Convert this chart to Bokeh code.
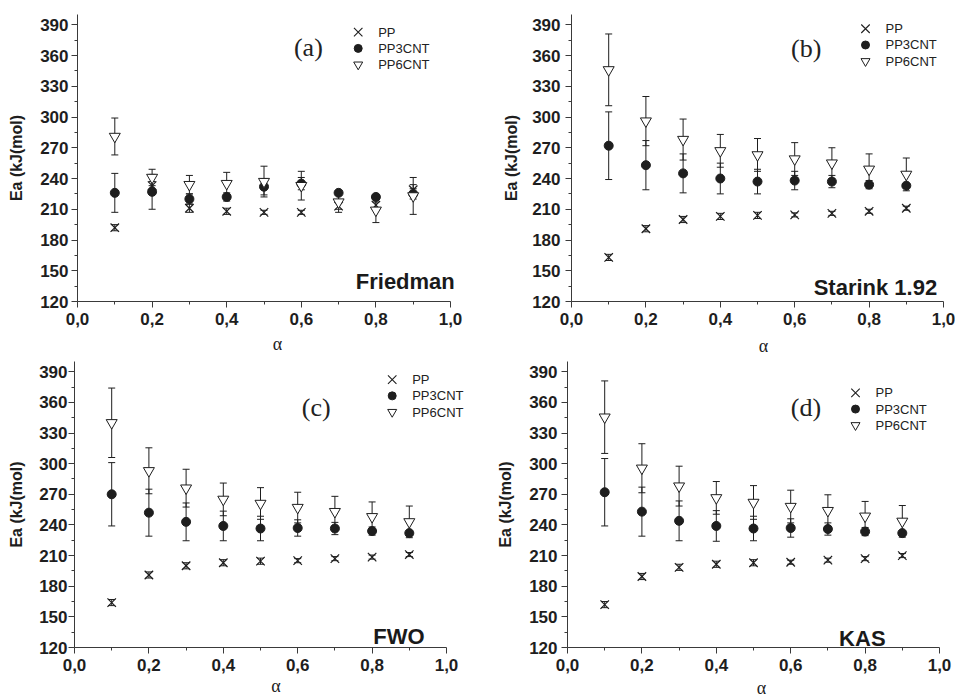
from bokeh.plotting import figure
from bokeh.layouts import column, row
from bokeh.models import (ColumnDataSource, Whisker, TeeHead, FixedTicker, Range1d,
                          Label, CustomJSTickFormatter)
from bokeh.core.properties import value
from bokeh.embed import file_html
from bokeh.resources import INLINE

# Conversion degree
ALPHA = [0.1, 0.2, 0.3, 0.4, 0.5, 0.6, 0.7, 0.8, 0.9]

# Activation energy Ea (kJ/mol) and its error, per isoconversional method
FRIEDMAN_PP = [192, 233, 211, 208, 207, 207, 213, 214, 229]
FRIEDMAN_PP_ERR = [3, 4, 4, 3, 2, 2, 3, 3, 5]
FRIEDMAN_PP3CNT = [226, 227, 220, 222, 232, 235, 226, 222, 225]
FRIEDMAN_PP3CNT_ERR = [19, 17, 5, 4, 8, 6, 2, 2, 5]
FRIEDMAN_PP6CNT = [281, 241, 234, 235, 237, 233, 217, 209, 223]
FRIEDMAN_PP6CNT_ERR = [18, 8, 9, 11, 15, 14, 10, 12, 18]

STARINK_PP = [163, 191, 200, 203, 204, 204.5, 206, 208, 211]
STARINK_PP_ERR = [3, 3, 3, 3, 3, 2, 2, 2, 2]
STARINK_PP3CNT = [272, 253, 245, 240, 237, 238, 237, 234, 233]
STARINK_PP3CNT_ERR = [33, 24, 19, 15, 12, 9, 6, 4, 2]
STARINK_PP6CNT = [346, 296, 278, 267, 263, 259, 255, 249, 244]
STARINK_PP6CNT_ERR = [35, 24, 20, 16, 16, 16, 15, 15, 16]

FWO_PP = [164, 191, 200, 203, 204.5, 205, 207, 208.5, 211]
FWO_PP_ERR = [3, 3, 3, 3, 3, 2, 2, 2, 2]
FWO_PP3CNT = [270, 252, 243, 239, 236.5, 237, 236.5, 234, 232]
FWO_PP3CNT_ERR = [31, 23, 18.5, 14.5, 12, 8, 6, 4, 2]
FWO_PP6CNT = [340, 293, 276, 265, 261, 257, 253, 248, 243]
FWO_PP6CNT_ERR = [34, 22.5, 18.5, 16, 15.5, 15, 15, 14.5, 15.5]

KAS_PP = [162, 189.5, 198.5, 201.5, 203, 203.5, 205.5, 207, 210]
KAS_PP_ERR = [3, 3, 3, 3, 3, 2, 2, 2, 2]
KAS_PP3CNT = [272, 253, 244, 239, 236.5, 237, 236, 233.5, 232]
KAS_PP3CNT_ERR = [33, 24, 19.5, 15, 12, 9, 6, 4, 2]
KAS_PP6CNT = [345.5, 295.5, 278, 266.5, 262, 258, 254, 248.5, 243.5]
KAS_PP6CNT_ERR = [35.5, 24, 19.5, 16, 16.5, 16, 15.5, 14.5, 15.5]

SERIES_NAMES = ["PP", "PP3CNT", "PP6CNT"]

X_TICKS = [0.0, 0.2, 0.4, 0.6, 0.8, 1.0]
X_MINOR = [0.1, 0.3, 0.5, 0.7, 0.9]
Y_TICKS = [120, 150, 180, 210, 240, 270, 300, 330, 360, 390]
Y_MINOR = [135, 165, 195, 225, 255, 285, 315, 345, 375]
Y_START, Y_END = 120, 400

INK = "#1e1e1e"
AXIS = "#3a3a3a"
SANS = "Liberation Sans"
SERIF = "Liberation Serif"

# Panel geometry and annotation placement (layout only).
# "gap" is the pixel distance from alpha = 1 to the right edge of the figure.
PANELS = [
    dict(tag="(a)", method="Friedman",
         data=(FRIEDMAN_PP, FRIEDMAN_PP_ERR, FRIEDMAN_PP3CNT, FRIEDMAN_PP3CNT_ERR,
               FRIEDMAN_PP6CNT, FRIEDMAN_PP6CNT_ERR),
         w=477, h=358, bl=77, gap=27, bt=14, bb=56,
         tick_std=3, ylab_std=12, xlab_std=6,
         tag_xy=(0.619, 367.7), meth_xy=(1.0115, 139.7), leg_px=(280.7, 17.7)),
    dict(tag="(b)", method="Starink 1.92",
         data=(STARINK_PP, STARINK_PP_ERR, STARINK_PP3CNT, STARINK_PP3CNT_ERR,
               STARINK_PP6CNT, STARINK_PP6CNT_ERR),
         w=478, h=358, bl=94, gap=12, bt=14, bb=56,
         tick_std=5, ylab_std=9, xlab_std=8,
         tag_xy=(0.631, 366.7), meth_xy=(0.983, 133.6), leg_px=(294, 14.3)),
    dict(tag="(c)", method="FWO",
         data=(FWO_PP, FWO_PP_ERR, FWO_PP3CNT, FWO_PP3CNT_ERR,
               FWO_PP6CNT, FWO_PP6CNT_ERR),
         w=477, h=342, bl=74, gap=31, bt=3, bb=51,
         tick_std=1, ylab_std=11, xlab_std=2,
         tag_xy=(0.650, 354.6), meth_xy=(0.941, 130.7), leg_px=(317.7, 18.3)),
    dict(tag="(d)", method="KAS",
         data=(KAS_PP, KAS_PP_ERR, KAS_PP3CNT, KAS_PP3CNT_ERR,
               KAS_PP6CNT, KAS_PP6CNT_ERR),
         w=478, h=342, bl=90, gap=16, bt=3, bb=51,
         tick_std=4, ylab_std=12, xlab_std=4,
         tag_xy=(0.641, 355.3), meth_xy=(0.855, 128.7), leg_px=(288, 31.6)),
]

MARKERS = [
    dict(marker="x", size=12, line_color=INK, line_width=1.2, fill_color=None),
    dict(marker="circle", size=9, line_color=INK, line_width=1, fill_color=INK),
    dict(marker="inverted_triangle", size=11, line_color=INK, line_width=1, fill_color="white"),
]
LEGEND_MARKERS = [
    dict(marker="x", size=12, line_color=INK, line_width=1.1, fill_color=None),
    dict(marker="circle", size=8, line_color=INK, line_width=1, fill_color=INK),
    dict(marker="inverted_triangle", size=9, line_color=INK, line_width=1, fill_color="white"),
]
LEGEND_ROW_PX = 16.3
LEGEND_TEXT_PX = 20


def make_panel(spec):
    plot_w = spec["w"] - spec["bl"] - spec["gap"]      # pixels for alpha 0..1
    plot_h = spec["h"] - spec["bt"] - spec["bb"]
    x_end = (spec["w"] - spec["bl"]) / plot_w           # frame runs to the figure edge
    px_per_y = plot_h / (Y_END - Y_START)

    p = figure(width=spec["w"], height=spec["h"],
               x_range=Range1d(0, x_end), y_range=Range1d(Y_START, Y_END),
               output_backend="svg", toolbar_location=None,
               min_border_left=spec["bl"], min_border_right=0,
               min_border_top=spec["bt"], min_border_bottom=spec["bb"])
    p.outline_line_color = None
    p.grid.visible = False
    p.background_fill_color = "white"
    p.border_fill_color = "white"

    for ax in (p.xaxis[0], p.yaxis[0]):
        ax.axis_line_color = AXIS
        ax.major_tick_line_color = AXIS
        ax.minor_tick_line_color = AXIS
        ax.major_tick_out = 6
        ax.major_tick_in = 0
        ax.minor_tick_out = 3
        ax.minor_tick_in = 0
        ax.major_label_text_font = SANS
        ax.major_label_text_font_style = "bold"
        ax.major_label_text_font_size = "17px"
        ax.major_label_text_color = "#1e1e1e"

    p.xaxis.bounds = (0, 1)
    p.xaxis.ticker = FixedTicker(ticks=X_TICKS, minor_ticks=X_MINOR)
    p.xaxis.formatter = CustomJSTickFormatter(code="return tick.toFixed(1).replace('.', ',');")
    p.xaxis.axis_label = "α"
    p.xaxis.axis_label_text_font = SERIF
    p.xaxis.axis_label_text_font_style = "normal"
    p.xaxis.axis_label_text_font_size = "18px"
    p.xaxis.axis_label_text_color = "#222222"
    p.xaxis.major_label_standoff = 5
    p.xaxis.axis_label_standoff = spec["xlab_std"]

    p.yaxis.ticker = FixedTicker(ticks=Y_TICKS, minor_ticks=Y_MINOR)
    p.yaxis.axis_label = "Ea (kJ(mol)"
    p.yaxis.axis_label_text_font = SANS
    p.yaxis.axis_label_text_font_style = "bold"
    p.yaxis.axis_label_text_font_size = "16px"
    p.yaxis.axis_label_text_color = "#1e1e1e"
    p.yaxis.major_label_standoff = spec["tick_std"]
    p.yaxis.axis_label_standoff = spec["ylab_std"]

    vals = spec["data"]
    for k in range(len(SERIES_NAMES)):
        y = vals[2 * k]
        err = vals[2 * k + 1]
        src = ColumnDataSource(dict(
            x=ALPHA, y=y,
            upper=[v + e for v, e in zip(y, err)],
            lower=[v - e for v, e in zip(y, err)],
        ))
        wh = Whisker(source=src, base="x", upper="upper", lower="lower",
                     dimension="height", line_color=INK, line_width=1,
                     upper_head=TeeHead(size=7, line_color=INK, line_width=1),
                     lower_head=TeeHead(size=7, line_color=INK, line_width=1),
                     level="underlay")
        p.add_layout(wh)
        p.scatter("x", "y", source=src, **MARKERS[k])

    # legend block: symbol column plus series names, positioned in pixels
    lx_px, ly_px = spec["leg_px"]
    for k, name in enumerate(SERIES_NAMES):
        yy = Y_END - (ly_px + k * LEGEND_ROW_PX) / px_per_y
        p.scatter(x=[lx_px / plot_w], y=[yy], **LEGEND_MARKERS[k])
        p.text(x=[(lx_px + LEGEND_TEXT_PX) / plot_w], y=[yy], text=[name],
               text_font=value(SANS), text_font_size="13px", text_color="#222222",
               text_align="left", text_baseline="middle")

    tx, ty = spec["tag_xy"]
    p.add_layout(Label(x=tx, y=ty, text=spec["tag"], text_font=SERIF,
                       text_font_size="26px", text_color="#222222",
                       text_align="center", text_baseline="middle"))
    mx, my = spec["meth_xy"]
    p.add_layout(Label(x=mx, y=my, text=spec["method"], text_font=SANS,
                       text_font_style="bold", text_font_size="22px",
                       text_color="#1a1a1a", text_align="right",
                       text_baseline="alphabetic"))
    return p


figs = [make_panel(s) for s in PANELS]
layout = column(row(figs[0], figs[1]), row(figs[2], figs[3]))

open("out.html", "w").write(file_html(layout, INLINE, title="Ea vs conversion"))
